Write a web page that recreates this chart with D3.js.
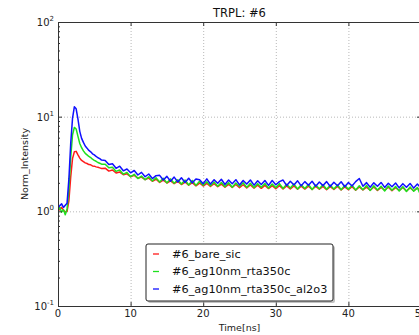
<!DOCTYPE html>
<html>
<head>
<meta charset="utf-8">
<script src="https://cdn.jsdelivr.net/npm/d3@7"></script>
<style>
  body { margin: 0; background: #fff; }
  svg { display: block; font-family: "DejaVu Sans", sans-serif; }
  .grid line { stroke: #b8b8b8; stroke-dasharray: 1,2; }
  .axis path, .axis line { stroke: #333; }
</style>
</head>
<body>
<svg></svg>
<script>
//constants
const margin = {top: 22, right: -2, bottom: 29, left: 58};
const width = 419 - margin.left - margin.right;
const height = 335 - margin.top - margin.bottom;

//data: time (ns) and normalised intensity per sample
const times = [
  0, 0.25, 0.5, 0.75, 1, 1.25, 1.5, 1.75, 2, 2.25, 2.5, 2.75, 3, 3.25, 3.5, 3.75, 4, 4.25, 4.5, 4.75, 5, 5.25, 5.5, 5.75, 6,
  6.5, 7, 7.5, 8, 8.5, 9, 9.5, 10, 10.5, 11,
  11.5, 12, 12.5, 13, 13.5, 14, 14.5, 15, 15.5, 16,
  16.5, 17, 17.5, 18, 18.5, 19, 19.5, 20, 20.5, 21,
  21.5, 22, 22.5, 23, 23.5, 24, 24.5, 25, 25.5, 26,
  26.5, 27, 27.5, 28, 28.5, 29, 29.5, 30, 30.5, 31,
  31.5, 32, 32.5, 33, 33.5, 34, 34.5, 35, 35.5, 36,
  36.5, 37, 37.5, 38, 38.5, 39, 39.5, 40, 40.5, 41,
  41.5, 42, 42.5, 43, 43.5, 44, 44.5, 45, 45.5, 46,
  46.5, 47, 47.5, 48, 48.5, 49, 49.5, 50
];

const bareSic = [
  1.0, 1.06, 1.1, 1.03, 0.98, 1.0, 1.3, 2.3, 3.6, 4.25, 4.3, 3.95, 3.65, 3.45, 3.35, 3.25, 3.2, 3.12, 3.1, 3.02, 3.0, 2.95, 2.92, 2.88, 2.84,
  2.86, 2.66, 2.73, 2.54, 2.6, 2.44, 2.49, 2.32, 2.4, 2.24,
  2.3, 2.16, 2.24, 2.08, 2.18, 2.02, 2.14, 1.99, 2.1, 1.96,
  2.07, 1.92, 2.04, 1.89, 2.01, 1.86, 1.99, 1.85, 1.97, 1.83,
  1.96, 1.82, 1.94, 1.8, 1.93, 1.79, 1.92, 1.78, 1.91, 1.77,
  1.9, 1.76, 1.89, 1.75, 1.88, 1.74, 1.87, 1.73, 1.87, 1.72,
  1.86, 1.72, 1.85, 1.71, 1.84, 1.72, 1.84, 1.7, 1.83, 1.71,
  1.83, 1.69, 1.82, 1.7, 1.83, 1.68, 1.81, 1.69, 1.82, 1.67,
  1.81, 1.68, 1.8, 1.67, 1.81, 1.66, 1.79, 1.67, 1.8, 1.65,
  1.78, 1.66, 1.79, 1.64, 1.77, 1.65, 1.76, 1.64
];

const ag10nm = [
  1.02, 1.1, 0.98, 1.04, 0.92, 1.06, 1.7, 3.7, 6.4, 7.7, 7.4, 6.2, 5.2, 4.7, 4.35, 4.1, 3.95, 3.8, 3.7, 3.55, 3.45, 3.38, 3.28, 3.22, 3.15,
  3.15, 2.88, 2.92, 2.64, 2.74, 2.47, 2.58, 2.32, 2.46, 2.22,
  2.36, 2.16, 2.32, 2.09, 2.26, 2.04, 2.24, 2.0, 2.2, 1.98,
  2.16, 1.94, 2.14, 1.9, 2.12, 1.88, 2.08, 1.89, 2.05, 1.86,
  2.04, 1.84, 2.02, 1.82, 2.01, 1.8, 1.99, 1.83, 2.0, 1.79,
  1.98, 1.78, 1.96, 1.8, 1.97, 1.76, 1.94, 1.78, 1.96, 1.74,
  1.93, 1.76, 1.94, 1.72, 1.91, 1.74, 1.92, 1.7, 1.9, 1.73,
  1.91, 1.71, 1.89, 1.72, 1.9, 1.69, 1.88, 1.71, 1.89, 1.68,
  1.86, 1.69, 1.88, 1.66, 1.86, 1.68, 1.84, 1.64, 1.85, 1.67,
  1.83, 1.64, 1.82, 1.62, 1.81, 1.63, 1.78, 1.45
];

const ag10nmAl2o3 = [
  1.08, 1.15, 1.2, 1.1, 1.16, 1.22, 2.2, 5.2, 9.6, 12.7, 12.1, 9.4, 7.0, 5.9, 5.35, 4.9, 4.65, 4.4, 4.25, 4.05, 3.95, 3.8, 3.68, 3.6, 3.48,
  3.45, 3.12, 3.18, 2.85, 3.0, 2.68, 2.8, 2.55, 2.7, 2.42,
  2.58, 2.32, 2.48, 2.22, 2.38, 2.4, 2.14, 2.34, 2.08, 2.3,
  2.04, 2.26, 2.02, 2.24, 2.0, 2.2, 2.16, 1.96, 2.2, 1.94,
  2.16, 1.98, 2.18, 1.92, 2.14, 1.96, 2.16, 1.9, 2.12, 1.94,
  2.14, 1.89, 2.1, 1.92, 2.12, 1.88, 2.12, 1.91, 2.06, 2.14,
  1.87, 2.08, 1.9, 2.1, 1.86, 2.06, 1.89, 2.08, 1.84, 2.04,
  1.87, 2.06, 1.83, 2.03, 1.86, 2.05, 1.82, 2.02, 1.85, 2.06,
  2.22, 1.84, 2.01, 1.8, 2.0, 1.84, 2.02, 1.79, 1.98, 1.82,
  1.99, 1.77, 1.96, 1.8, 1.97, 1.76, 1.94, 1.76
];

const seriesNames = ["#6_bare_sic", "#6_ag10nm_rta350c", "#6_ag10nm_rta350c_al2o3"];
const seriesColors = ["#ff1a1a", "#1ee01e", "#1010ff"];
const xTicks = [0, 10, 20, 30, 40, 50];
const yTicks = [0.1, 1, 10, 100];

//main
function main() {

    let series = [bareSic, ag10nm, ag10nmAl2o3].map((vals, i) => ({
        name: seriesNames[i],
        color: seriesColors[i],
        points: vals.map((v, j) => ({t: times[j], v: v}))
    }));

    //scales
    let xScale = d3.scaleLinear()
        .domain([0, 50])
        .range([0, width]);

    let yScale = d3.scaleLog()
        .domain([0.1, 100])
        .range([height, 0]);

    //canvas
    let svg = d3.select("svg")
        .attr("width", 419)
        .attr("height", 335)
        .append("g")
        .attr("transform", "translate(" + margin.left + "," + margin.top + ")");

    svg.append("defs").append("clipPath")
        .attr("id", "plotclip")
        .append("rect")
        .attr("width", width)
        .attr("height", height);

    //grid
    svg.append("g")
        .attr("class", "grid")
        .call(d3.axisBottom(xScale).tickValues(xTicks).tickSize(height).tickFormat(""))
        .call(g => g.select(".domain").remove());

    svg.append("g")
        .attr("class", "grid")
        .call(d3.axisLeft(yScale).tickValues(yTicks).tickSize(-width).tickFormat(""))
        .call(g => g.select(".domain").remove());

    //lines
    let line = d3.line()
        .x(d => xScale(d.t))
        .y(d => yScale(d.v));

    svg.append("g")
        .attr("clip-path", "url(#plotclip)")
        .selectAll("path")
        .data(series)
        .enter()
        .append("path")
        .attr("d", d => line(d.points))
        .attr("fill", "none")
        .attr("stroke", d => d.color)
        .attr("stroke-width", 1.5)
        .attr("stroke-linejoin", "round");

    //axes (ticks point inward)
    let minor = yScale.ticks().filter(v => !yTicks.includes(v));

    svg.append("g")
        .attr("class", "axis")
        .attr("transform", "translate(0," + height + ")")
        .call(d3.axisBottom(xScale).tickValues(xTicks).tickSizeInner(-4).tickSizeOuter(0).tickFormat(""));

    svg.append("g")
        .attr("class", "axis")
        .call(d3.axisTop(xScale).tickValues(xTicks).tickSizeInner(-4).tickSizeOuter(0).tickFormat(""));

    svg.append("g")
        .attr("class", "axis")
        .call(d3.axisLeft(yScale).tickValues(yTicks).tickSizeInner(-4).tickSizeOuter(0).tickFormat(""));

    svg.append("g")
        .attr("class", "axis")
        .call(d3.axisLeft(yScale).tickValues(minor).tickSizeInner(-2).tickSizeOuter(0).tickFormat(""))
        .call(g => g.select(".domain").remove());

    svg.append("g")
        .attr("class", "axis")
        .attr("transform", "translate(" + width + ",0)")
        .call(d3.axisRight(yScale).tickValues(yTicks).tickSizeInner(-4).tickSizeOuter(0).tickFormat(""));

    svg.append("g")
        .attr("class", "axis")
        .attr("transform", "translate(" + width + ",0)")
        .call(d3.axisRight(yScale).tickValues(minor).tickSizeInner(-2).tickSizeOuter(0).tickFormat(""))
        .call(g => g.select(".domain").remove());

    //tick labels
    svg.selectAll("xlabels")
        .data(xTicks)
        .enter()
        .append("text")
        .attr("x", d => xScale(d))
        .attr("y", height + 11)
        .style("text-anchor", "middle")
        .style("font-size", "10px")
        .attr("fill", "#222")
        .text(d => d);

    let ylab = svg.selectAll("ylabels")
        .data(yTicks)
        .enter()
        .append("text")
        .attr("x", -4)
        .attr("y", d => yScale(d) + 4)
        .style("text-anchor", "end")
        .style("font-size", "10px")
        .attr("fill", "#222");
    ylab.append("tspan").text("10");
    ylab.append("tspan")
        .attr("dy", -5)
        .style("font-size", "7px")
        .text(d => Math.round(Math.log10(d)));

    //title
    svg.append("text")
        .attr("x", width / 2)
        .attr("y", -5)
        .style("text-anchor", "middle")
        .style("font-size", "11.5px")
        .attr("fill", "#111")
        .text("TRPL: #6");

    //axes labels
    svg.append("text")
        .attr("x", width / 2)
        .attr("y", height + 25)
        .style("text-anchor", "middle")
        .style("font-size", "9.5px")
        .attr("fill", "#222")
        .text("Time[ns]");

    svg.append("text")
        .attr("transform", "rotate(-90)")
        .attr("x", -height / 2)
        .attr("y", -30)
        .style("text-anchor", "middle")
        .style("font-size", "9.5px")
        .attr("fill", "#222")
        .text("Norm_Intensity");

    //legend
    let legend = svg.append("g")
        .attr("transform", "translate(" + (146 - margin.left) + "," + (244 - margin.top) + ")");

    legend.append("rect")
        .attr("x", 2)
        .attr("y", 2)
        .attr("width", 187)
        .attr("height", 57)
        .attr("rx", 2)
        .attr("fill", "#999")
        .attr("opacity", 0.6);

    legend.append("rect")
        .attr("width", 187)
        .attr("height", 57)
        .attr("rx", 2)
        .attr("fill", "#fff")
        .attr("stroke", "#222")
        .attr("stroke-width", 1);

    legend.selectAll("legendlines")
        .data(series)
        .enter()
        .append("line")
        .attr("x1", 7)
        .attr("x2", 13)
        .attr("y1", (d, i) => 10 + i * 17.5)
        .attr("y2", (d, i) => 10 + i * 17.5)
        .attr("stroke", d => d.color)
        .attr("stroke-width", 1.3);

    legend.selectAll("legendlabels")
        .data(series)
        .enter()
        .append("text")
        .attr("x", 26)
        .attr("y", (d, i) => 10 + i * 17.5)
        .attr("dy", "0.35em")
        .style("font-size", "11.3px")
        .attr("fill", "#111")
        .text(d => d.name);
}

main();
</script>
</body>
</html>
